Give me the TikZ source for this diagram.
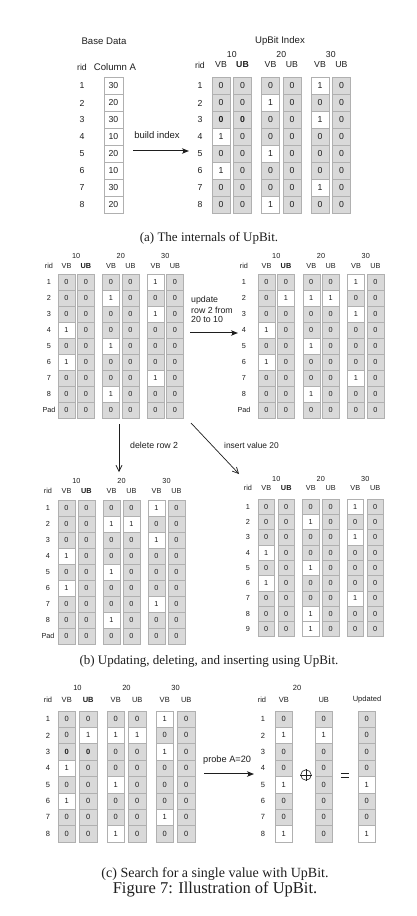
\documentclass[tikz,border=0pt]{standalone}
\usepackage{fontspec}
\setmainfont{Liberation Serif}
\setsansfont{Liberation Sans}
\usetikzlibrary{arrows.meta}
\definecolor{cellgray}{HTML}{D9D9D9}
\definecolor{cellline}{HTML}{B0B0B0}
\definecolor{ink}{HTML}{1E1E1E}
\def\fsz{8.5}
\tikzset{
  lbl/.style={inner sep=0pt, text=ink, font=\sffamily\fontsize{\fsz}{\fsz}\selectfont},
  biglbl/.style={inner sep=0pt, text=ink, font=\sffamily\fontsize{#1}{#1}\selectfont},
  cellbase/.style={lbl, draw=cellline, line width=0.5pt},
  gcell/.style={cellbase, fill=cellgray},
  wcell/.style={cellbase, fill=white},
  captext/.style={inner sep=0pt, text=ink, font=\fontsize{13}{14}\selectfont},
  dblouter/.style={draw=ink, line width=1.7pt, -{Stealth[length=7pt,width=5.5pt,inset=2pt]}},
  dblinner/.style={draw=white, line width=0.55pt, shorten >=6pt},
  sarrow/.style={draw=ink, line width=0.7pt, -{Straight Barb[length=6pt,width=6pt]}},
  thinline/.style={draw=ink, line width=0.6pt},
}
\newcommand\bitcol[6]{% name, xleft, ytop, w, h, values
  \edef\tmplist{#6}%
  \foreach \v [count=\i] in \tmplist {
    \ifcase\v\relax \def\cst{gcell}\def\ctx{0}\or \def\cst{wcell}\def\ctx{1}\or \def\cst{gcell}\def\ctx{\textbf{0}}\fi
    \node[\cst, minimum width=#4pt, minimum height=#5pt] (#1-\i) at ({#2+#4/2}, {#3+(\i-0.5)*#5}) {\ctx};
  }
}
\newcommand\upbit[3]{% name, list of six value lists, row labels
  \foreach \vals [count=\c] in {#2} {
    \pgfmathsetmacro\kk{int((\c-1)/2)}
    \pgfmathsetmacro\jj{int(mod(\c-1,2))}
    \pgfmathsetmacro\cx{\ubx+\kk*\ubp+\jj*\ubd}
    \bitcol{#1-c\c}{\cx}{\uby}{\ubw}{\ubh}{\vals}
  }
  \foreach \r [count=\i] in {#3} \node[lbl] (#1-r\i) at (\ubrid, {\uby+(\i-0.5)*\ubh}) {\r};
  \node[lbl] (#1-rid) at (\ubrid,\ubhy) {rid};
  \foreach \k/\g in {0/10,1/20,2/30} {
    \node[lbl] (#1-g\g) at ({\ubx+\k*\ubp+(\ubd+\ubw)/2}, \ubgy) {\g};
    \node[lbl] (#1-vb\g) at ({\ubx+\k*\ubp+\ubw/2}, \ubhy) {VB};
    \node[lbl] (#1-ub\g) at ({\ubx+\k*\ubp+\ubd+\ubw/2}, \ubhy) {\ifnum\k=0 \textbf{UB}\else UB\fi};
  }
}
\newcommand\dblarrow[2]{%
  \draw[dblouter] (#1) -- (#2);
  \draw[dblinner] (#1) -- (#2);
}
\begin{document}
\begin{tikzpicture}[x=1pt, y=-1pt]
\useasboundingbox (0,0) rectangle (416,916);
\fill[white] (0,0) rectangle (416,916);

%% ---------------- (a) ----------------
\def\fsz{8.7}
\node[biglbl=9.6] (basedata) at (104,41) {Base Data};
\node[lbl] (baserid) at (82,67) {rid};
\node[biglbl=9.6] (colA) at (115,67) {Column A};
\foreach \val [count=\i] in {30,20,30,10,20,10,30,20} {
  \node[wcell, minimum width=19pt, minimum height=17pt] (A-\i) at (113.5, {77.5+(\i-0.5)*17}) {\val};
  \node[lbl] (base-r\i) at (82, {77.5+(\i-0.5)*17}) {\i};
}
\node[biglbl=9.6] (upbittitle) at (280,41) {UpBit Index};
\def\ubx{212}\def\ubd{21.5}\def\ubp{49.5}\def\ubw{18}\def\uby{77.5}\def\ubh{17}\def\ubrid{200}\def\ubhy{65}\def\ubgy{55}
\upbit{ia}{{0,0,2,1,0,1,0,0},{0,0,2,0,0,0,0,0},{0,1,0,0,1,0,0,1},{0,0,0,0,0,0,0,0},{1,0,1,0,0,0,1,0},{0,0,0,0,0,0,0,0}}{1,...,8}
\coordinate (bi-s) at (133,151);
\coordinate (bi-e) at (189,151);
\dblarrow{bi-s}{bi-e}
\node[biglbl=9.5] (bitxt) at (157,135) {build index};
\node[captext] (capa) at (209,238) {(a) The internals of UpBit.};

%% ---------------- (b) ----------------
\def\fsz{7.3}
\def\ubx{58}\def\ubd{19.5}\def\ubp{44.5}\def\ubw{17}\def\uby{274}\def\ubh{16}\def\ubrid{49}\def\ubhy{266}\def\ubgy{256}
\upbit{tl}{{0,0,0,1,0,1,0,0,0},{0,0,0,0,0,0,0,0,0},{0,1,0,0,1,0,0,1,0},{0,0,0,0,0,0,0,0,0},{1,0,1,0,0,0,1,0,0},{0,0,0,0,0,0,0,0,0}}{1,...,8,Pad}

\def\ubx{258}\def\ubd{19.5}\def\ubp{44.75}\def\ubw{17}\def\uby{274}\def\ubh{16}\def\ubrid{244}\def\ubhy{266}\def\ubgy{256}
\upbit{tr}{{0,0,0,1,0,1,0,0,0},{0,1,0,0,0,0,0,0,0},{0,1,0,0,1,0,0,1,0},{0,1,0,0,0,0,0,0,0},{1,0,1,0,0,0,1,0,0},{0,0,0,0,0,0,0,0,0}}{1,...,8,Pad}

\def\ubx{58}\def\ubd{20}\def\ubp{45}\def\ubw{17}\def\uby{500}\def\ubh{16}\def\ubrid{48}\def\ubhy{491}\def\ubgy{481}
\upbit{bl}{{0,0,0,1,0,1,0,0,0},{0,0,0,0,0,0,0,0,0},{0,1,0,0,1,0,0,1,0},{0,1,0,0,0,0,0,0,0},{1,0,1,0,0,0,1,0,0},{0,0,0,0,0,0,0,0,0}}{1,...,8,Pad}

\def\ubx{258}\def\ubd{20}\def\ubp{44.5}\def\ubw{16.5}\def\uby{499}\def\ubh{15.3}\def\ubrid{248}\def\ubhy{488}\def\ubgy{479}
\upbit{br}{{0,0,0,1,0,1,0,0,0},{0,0,0,0,0,0,0,0,0},{0,1,0,0,1,0,0,1,1},{0,0,0,0,0,0,0,0,0},{1,0,1,0,0,0,1,0,0},{0,0,0,0,0,0,0,0,0}}{1,...,9}

\node[biglbl=8.8, anchor=west] (updtxt1) at (191,300) {update};
\node[biglbl=8.8, anchor=west] (updtxt2) at (191,310) {row 2 from};
\node[biglbl=8.8, anchor=west] (updtxt3) at (191,319.5) {20 to 10};
\coordinate (up-s) at (190,333);
\coordinate (up-e) at (238,333);
\dblarrow{up-s}{up-e}

\coordinate (del-s) at (119,424);
\coordinate (del-e) at (119,472);
\draw[sarrow] (del-s) -- (del-e);
\node[biglbl=8.8, anchor=west] (deltxt) at (130,445) {delete row 2};

\coordinate (ins-s) at (191,423);
\coordinate (ins-e) at (239,474);
\draw[sarrow] (ins-s) -- (ins-e);
\node[biglbl=8.4, anchor=west] (instxt) at (224,445) {insert value 20};

\node[captext] (capb) at (209,661) {(b) Updating, deleting, and inserting using UpBit.};

%% ---------------- (c) ----------------
\def\fsz{7.5}
\def\ubx{58}\def\ubd{21.5}\def\ubp{49}\def\ubw{17.5}\def\uby{710.8}\def\ubh{16.4}\def\ubrid{48}\def\ubhy{700}\def\ubgy{688}
\upbit{sc}{{0,0,2,1,0,1,0,0},{0,1,2,0,0,0,0,0},{0,1,0,0,1,0,0,1},{0,1,0,0,0,0,0,0},{1,0,1,0,0,0,1,0},{0,0,0,0,0,0,0,0}}{1,...,8}

\bitcol{rvb}{275}{710.8}{17.5}{16.4}{0,1,0,0,1,0,0,1}
\bitcol{rub}{315}{710.8}{17.5}{16.4}{0,1,0,0,0,0,0,0}
\bitcol{rupd}{358}{710.8}{17.5}{16.4}{0,0,0,0,1,0,0,1}
\foreach \i in {1,...,8} \node[lbl] (rr-\i) at (263, {710.8+(\i-0.5)*16.4}) {\i};
\node[lbl] (rrid) at (262,700) {rid};
\node[lbl] (rvbh) at (283.75,700) {VB};
\node[lbl] (rubh) at (323.75,700) {UB};
\node[lbl] (rupdh) at (367,700) {Updated};
\node[lbl] (r20) at (297,688) {20};
\node[circle, draw=ink, line width=0.6pt, minimum size=10.5pt, inner sep=0pt] (oplus) at (306,775) {};
\draw[thinline] (oplus.north) -- (oplus.south);
\draw[thinline] (oplus.west) -- (oplus.east);
\node[inner sep=0pt, minimum width=8pt, minimum height=4pt] (eqs) at (345,775) {};
\draw[thinline] (eqs.north west) -- (eqs.north east);
\draw[thinline] (eqs.south west) -- (eqs.south east);

\coordinate (pr-s) at (204,774);
\coordinate (pr-e) at (254,774);
\dblarrow{pr-s}{pr-e}
\node[biglbl=9.2, anchor=west] (prtxt) at (203,760) {probe A=20};

\node[captext, font=\fontsize{14}{15}\selectfont] (capc) at (215,874) {(c) Search for a single value with UpBit.};
\node[captext, font=\fontsize{16.5}{17}\selectfont] (capfig) at (215,889) {Figure 7: Illustration of UpBit.};
\end{tikzpicture}
\end{document}
